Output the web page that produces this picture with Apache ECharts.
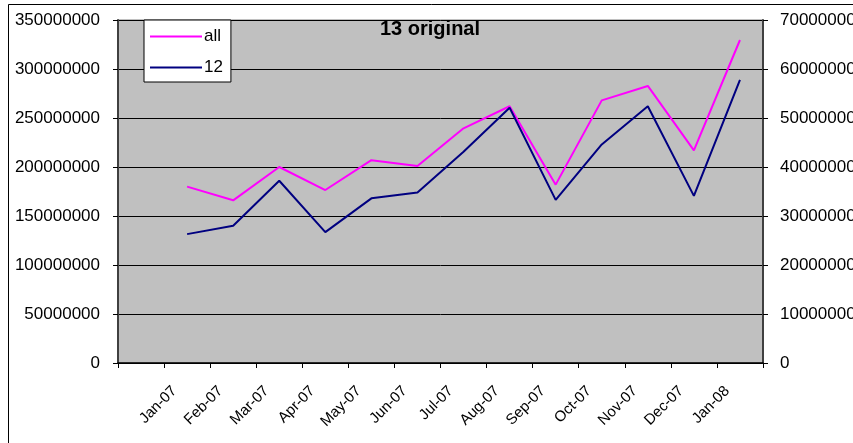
<!DOCTYPE html>
<html>
<head>
<meta charset="utf-8">
<script src="https://cdn.jsdelivr.net/npm/echarts@6/dist/echarts.min.js"></script>
<style>
  html, body { margin: 0; padding: 0; background: #fff; }
  #chart { width: 853px; height: 443px; }
</style>
</head>
<body>
<div id="chart"></div>
<script>
// first category has no label and no data
var months = ['', 'Jan-07', 'Feb-07', 'Mar-07', 'Apr-07', 'May-07', 'Jun-07',
  'Jul-07', 'Aug-07', 'Sep-07', 'Oct-07', 'Nov-07', 'Dec-07', 'Jan-08']
var allValues = [null, 180000000, 166000000, 200000000, 176500000, 207000000, 201000000,
  239500000, 262000000, 182000000, 268000000, 282700000, 217000000, 329600000]
var twelveValues = [null, 26300000, 28000000, 37200000, 26700000, 33600000, 34800000,
  43100000, 52100000, 33300000, 44600000, 52400000, 34100000, 57800000]

var chart = echarts.init(document.getElementById('chart'))

function plain(v) {
  return String(v)
}

chart.setOption({
  animation: false,
  backgroundColor: '#fff',
  textStyle: { fontFamily: 'Liberation Sans, Arial, sans-serif' },
  title: {
    text: '13 original',
    left: 380,
    top: 19,
    padding: 0,
    textStyle: { fontSize: 20, fontWeight: 'bold', color: '#000' }
  },
  graphic: [{
    type: 'rect',
    shape: { x: 8.5, y: 4.5, width: 900, height: 500 },
    style: { fill: 'none', stroke: '#000', lineWidth: 1 },
    z: -1
  }],
  legend: {
    orient: 'vertical',
    left: 144,
    top: 20,
    data: ['all', '12'],
    backgroundColor: '#fff',
    borderColor: '#000',
    borderWidth: 1,
    padding: [8, 8, 6, 6],
    itemGap: 14,
    itemWidth: 52,
    itemHeight: 2,
    icon: 'rect',
    textStyle: { fontSize: 17, color: '#000', padding: [0, 0, 0, -3] }
  },
  grid: {
    left: 118,
    right: 90,
    top: 20,
    bottom: 80,
    outerBoundsMode: 'none',
    containLabel: false,
    show: true,
    backgroundColor: '#C0C0C0',
    borderColor: '#808080',
    borderWidth: 1
  },
  xAxis: {
    type: 'category',
    data: months,
    boundaryGap: true,
    axisLine: { lineStyle: { color: '#000', width: 1.5 } },
    axisTick: { show: true, inside: false, length: 5, lineStyle: { color: '#000' } },
    axisLabel: {
      interval: 0,
      rotate: 45,
      margin: 13,
      padding: [0, 18, 0, 0],
      fontSize: 15,
      color: '#000'
    }
  },
  yAxis: [{
    type: 'value',
    min: 0,
    max: 350000000,
    interval: 50000000,
    axisLine: { show: true, lineStyle: { color: '#404040', width: 2 } },
    axisTick: { show: true, length: 5, lineStyle: { color: '#000' } },
    axisLabel: { margin: 18, fontSize: 17, color: '#000', formatter: plain },
    splitLine: { show: true, lineStyle: { color: '#000', width: 1 } }
  }, {
    type: 'value',
    min: 0,
    max: 70000000,
    interval: 10000000,
    position: 'right',
    axisLine: { show: true, lineStyle: { color: '#404040', width: 2 } },
    axisTick: { show: true, length: 5, lineStyle: { color: '#000' } },
    axisLabel: { margin: 17, fontSize: 17, color: '#000', formatter: plain },
    splitLine: { show: false }
  }],
  series: [{
    name: 'all',
    type: 'line',
    data: allValues,
    yAxisIndex: 0,
    symbol: 'none',
    itemStyle: { color: '#FF00FF' },
    lineStyle: { color: '#FF00FF', width: 2 }
  }, {
    name: '12',
    type: 'line',
    data: twelveValues,
    yAxisIndex: 1,
    symbol: 'none',
    itemStyle: { color: '#000080' },
    lineStyle: { color: '#000080', width: 2 }
  }]
})
</script>
</body>
</html>
